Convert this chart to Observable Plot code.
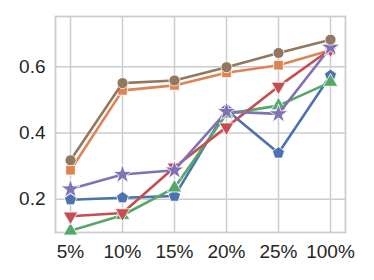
<!DOCTYPE html>
<html>
<head>
<meta charset="utf-8">
<script src="https://cdn.jsdelivr.net/npm/d3@7"></script>
<script src="https://cdn.jsdelivr.net/npm/@observablehq/plot@0.6"></script>
<style>
  html, body { margin: 0; padding: 0; background: #fff; }
  #chart svg { display: block; }
</style>
</head>
<body>
<div id="chart"></div>
<script>
const categories = ["5%", "10%", "15%", "20%", "25%", "100%"];
const yTicks = [0.2, 0.4, 0.6];

const blueValues   = [0.199, 0.205, 0.210, 0.470, 0.340, 0.574];
const orangeValues = [0.288, 0.529, 0.544, 0.582, 0.605, 0.650];
const greenValues  = [0.105, 0.152, 0.235, 0.458, 0.483, 0.554];
const redValues    = [0.149, 0.159, 0.297, 0.418, 0.541, 0.653];
const purpleValues = [0.231, 0.275, 0.288, 0.465, 0.458, 0.659];
const brownValues  = [0.318, 0.551, 0.559, 0.599, 0.642, 0.682];

const pentagon = {
  draw(ctx, size) {
    const r = Math.sqrt(size / 2.378);
    for (let i = 0; i < 5; i++) {
      const a = -Math.PI / 2 + i * 2 * Math.PI / 5;
      const x = r * Math.cos(a), y = r * Math.sin(a);
      if (i === 0) ctx.moveTo(x, y); else ctx.lineTo(x, y);
    }
    ctx.closePath();
  }
};
const triangleDown = {
  draw(ctx, size) {
    const r = Math.sqrt(size / 1.299);
    for (let i = 0; i < 3; i++) {
      const a = Math.PI / 2 + i * 2 * Math.PI / 3;
      const x = r * Math.cos(a), y = r * Math.sin(a);
      if (i === 0) ctx.moveTo(x, y); else ctx.lineTo(x, y);
    }
    ctx.closePath();
  }
};
const triangleUp = {
  draw(ctx, size) {
    const r = Math.sqrt(size / 1.299);
    for (let i = 0; i < 3; i++) {
      const a = -Math.PI / 2 + i * 2 * Math.PI / 3;
      const x = r * Math.cos(a), y = r * Math.sin(a);
      if (i === 0) ctx.moveTo(x, y); else ctx.lineTo(x, y);
    }
    ctx.closePath();
  }
};

const series = [
  {values: blueValues,   color: "#4C72B0", symbol: pentagon,      r: 5.5},
  {values: orangeValues, color: "#DD8452", symbol: "square",      r: 5.4},
  {values: greenValues,  color: "#55A868", symbol: triangleUp,    r: 5.4},
  {values: redValues,    color: "#C44E52", symbol: triangleDown,  r: 5.4},
  {values: purpleValues, color: "#8172B3", symbol: d3.symbolStar, r: 6.0},
  {values: brownValues,  color: "#937860", symbol: "circle",      r: 5.5}
];

const marks = [
  Plot.gridX({stroke: "#cccccc", strokeOpacity: 1, strokeWidth: 1.5}),
  Plot.gridY(yTicks, {stroke: "#cccccc", strokeOpacity: 1, strokeWidth: 1.5}),
  Plot.frame({stroke: "#cccccc", strokeWidth: 1.8})
];
for (const s of series) {
  const data = categories.map((c, i) => ({cat: c, v: s.values[i]}));
  marks.push(Plot.line(data, {x: "cat", y: "v", stroke: s.color, strokeWidth: 2.6}));
  marks.push(Plot.dot(data, {x: "cat", y: "v", fill: s.color, stroke: "white", strokeWidth: 0.8, symbol: () => s.symbol, r: s.r}));
}
marks.push(Plot.axisX({tickSize: 0, tickPadding: 12, fontSize: 19, color: "#262626"}));
marks.push(Plot.axisY(yTicks, {tickSize: 0, tickPadding: 10, fontSize: 19, color: "#262626", tickFormat: d3.format(".1f")}));

const chart = Plot.plot({
  width: 374,
  height: 280,
  marginLeft: 55,
  marginRight: 29,
  marginTop: 16,
  marginBottom: 48,
  style: {fontFamily: "Liberation Sans, Arial, sans-serif", background: "white", fontSize: "19px"},
  x: {type: "point", domain: categories, padding: 0.25, label: null},
  y: {domain: [0.1, 0.752], label: null},
  symbol: {type: "identity"},
  marks
});
document.getElementById("chart").appendChild(chart);
</script>
</body>
</html>
